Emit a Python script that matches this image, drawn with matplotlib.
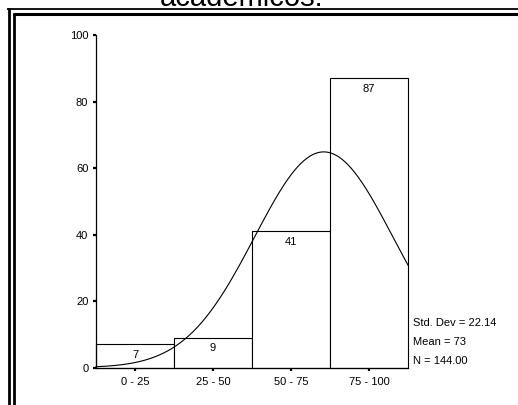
import matplotlib
matplotlib.use("Agg")
import matplotlib.pyplot as plt
import numpy as np
from matplotlib.lines import Line2D

plt.rcParams["font.family"] = ["Liberation Sans", "DejaVu Sans"]

# histogram data (SPSS style)
bin_labels = ["0 - 25", "25 - 50", "50 - 75", "75 - 100"]
bin_starts = [0, 25, 50, 75]
counts = [7, 9, 41, 87]
bin_width = 25
std_dev = 22.14
mean = 73
n_total = 144
title = "académicos."

W, H = 518, 405


def px(x, y):
    # pixel coords (from top-left) -> figure fraction
    return x / W, 1 - y / H


fig = plt.figure(figsize=(W / 100, H / 100), dpi=100)
fig.patch.set_facecolor("white")

ax = fig.add_axes([96 / W, 1 - 367.7 / H, (408 - 96) / W, (367.7 - 35) / H])
ax.bar(bin_starts, counts, width=bin_width, align="edge",
       facecolor="white", edgecolor="black", linewidth=0.8, clip_on=False)
for left, c in zip(bin_starts, counts):
    ax.text(left + bin_width / 2, c - 3.2, str(c), ha="center", va="center", fontsize=8)

# fitted normal curve from the reported statistics
xs = np.linspace(0, 100, 300)
peak = n_total * bin_width / (std_dev * np.sqrt(2 * np.pi))
ys = peak * np.exp(-0.5 * ((xs - mean) / std_dev) ** 2)
ax.plot(xs, ys, color="black", linewidth=0.8, clip_on=False)

ax.set_xlim(0, 100)
ax.set_ylim(0, 100)
ax.set_xticks([s + bin_width / 2 for s in bin_starts])
ax.set_xticklabels(bin_labels)
ax.set_yticks([0, 20, 40, 60, 80, 100])
for side in ["top", "right"]:
    ax.spines[side].set_visible(False)
for side in ["left", "bottom"]:
    ax.spines[side].set_linewidth(0.9)
ax.tick_params(axis="x", length=2, width=1.6, labelsize=8, pad=4.5)
ax.tick_params(axis="y", length=2, width=1.6, labelsize=8, pad=3.5)

# stats box text
stats = [f"Std. Dev = {std_dev:.2f}", f"Mean = {mean}", f"N = {n_total:.2f}"]
for i, s in enumerate(stats):
    fig.text(*px(413, 323 + i * 19), s, fontsize=8, ha="left", va="center")

# title, cut at the top of the picture
fig.text(*px(242, 6), title, fontsize=21, ha="center", va="baseline")

# double frame lines
def line(x0, y0, x1, y1, lw):
    a = px(x0, y0)
    b = px(x1, y1)
    fig.add_artist(Line2D([a[0], b[0]], [a[1], b[1]], transform=fig.transFigure,
                          color="black", linewidth=lw, solid_capstyle="butt"))

line(7.3, 9.2, W, 9.2, 1.3)
line(12.7, 14.3, W, 14.3, 2.2)
line(8.6, 8.2, 8.6, H, 2.0)
line(14, 13.2, 14, H, 2.0)

fig.savefig("out.png", dpi=100, facecolor="white")
